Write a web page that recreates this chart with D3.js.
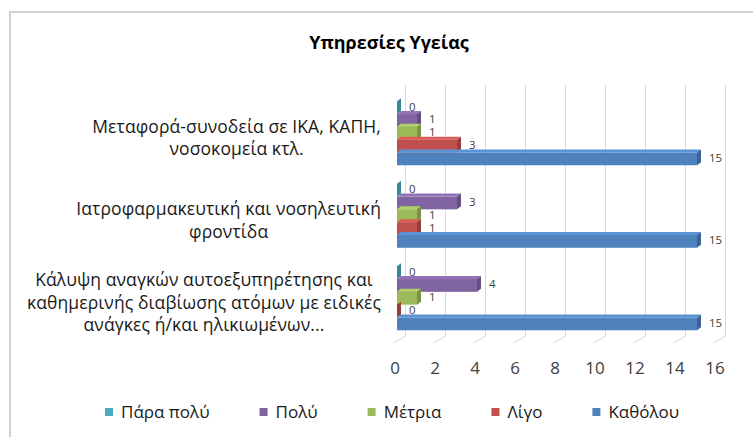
<!DOCTYPE html>
<html>
<head>
<meta charset="utf-8">
<script src="https://cdn.jsdelivr.net/npm/d3@7"></script>
<style>
  body { margin: 0; background: #fff; }
  svg { display: block; font-family: "Open Sans", "Noto Sans", sans-serif; }
</style>
</head>
<body>
<script>
// chart data
const title = "Υπηρεσίες Υγείας";
const categories = [
  ["Μεταφορά-συνοδεία σε ΙΚΑ, ΚΑΠΗ,", "νοσοκομεία κτλ."],
  ["Ιατροφαρμακευτική και νοσηλευτική", "φροντίδα"],
  ["Κάλυψη αναγκών αυτοεξυπηρέτησης και", "καθημερινής διαβίωσης ατόμων με ειδικές", "ανάγκες ή/και ηλικιωμένων..."]
];
const seriesNames = ["Πάρα πολύ", "Πολύ", "Μέτρια", "Λίγο", "Καθόλου"];
const paraPoly = [0, 0, 0];
const poly = [1, 3, 4];
const metria = [1, 1, 1];
const ligo = [3, 1, 0];
const katholou = [15, 15, 15];
const xTicks = [0, 2, 4, 6, 8, 10, 12, 14, 16];

const seriesValues = [paraPoly, poly, metria, ligo, katholou];
const colors = ["#4bacc6", "#8064a2", "#9bbb59", "#c0504d", "#4f81bd"];

const width = 753, height = 437;

const svg = d3.select("body").append("svg")
  .attr("width", width)
  .attr("height", height);

// outer frame
svg.append("rect")
  .attr("x", 10).attr("y", 12)
  .attr("width", 800).attr("height", 500)
  .attr("fill", "#fff")
  .attr("stroke", "#d0d0d0")
  .attr("stroke-width", 2);

svg.append("text")
  .attr("x", 389).attr("y", 49)
  .attr("text-anchor", "middle")
  .style("font-size", "18px")
  .style("font-weight", "bold")
  .attr("fill", "#000")
  .text(title);

// 3d depth: floor front -> back wall, bars sit in the middle
const depthX = 12, depthY = -7;
const barDx = 4, barDy = -3;

const x = d3.scaleLinear().domain([0, 16]).range([393, 713]);
const floorY = 343;

const y = d3.scaleBand()
  .domain(d3.range(categories.length))
  .range([92, 339.5])
  .paddingInner(0.224)
  .paddingOuter(0.112);

const ySeries = d3.scaleBand()
  .domain(d3.range(seriesNames.length))
  .range([0, y.bandwidth()]);

// gridlines on back wall + floor diagonals
const grid = svg.append("g").attr("stroke", "#d9d9d9").attr("stroke-width", 1);
grid.selectAll(".gv").data(xTicks).enter().append("line")
  .attr("x1", d => x(d) + depthX + 0.5).attr("x2", d => x(d) + depthX + 0.5)
  .attr("y1", 85).attr("y2", floorY + depthY);
grid.selectAll(".gd").data(xTicks).enter().append("line")
  .attr("x1", d => x(d) + 0.5).attr("y1", floorY)
  .attr("x2", d => x(d) + depthX + 0.5).attr("y2", floorY + depthY);

// tick labels
svg.append("g").selectAll("text").data(xTicks).enter().append("text")
  .attr("x", d => x(d) + 2)
  .attr("y", 374)
  .attr("text-anchor", "middle")
  .style("font-size", "17px")
  .attr("fill", "#404040")
  .text(d => d);

// bars
const x0 = x(0) + 4;
function shade(c, k) {
  return k > 0 ? d3.color(c).brighter(k).formatHex() : d3.color(c).darker(-k).formatHex();
}

categories.forEach(function(cat, ci) {
  const g = svg.append("g");
  seriesValues.forEach(function(vals, si) {
    const v = vals[ci];
    const yt = y(ci) + ySeries(si);
    const h = ySeries.bandwidth();
    const xe = x0 + (x(v) - x(0));
    const col = colors[si];
    // front
    g.append("rect")
      .attr("x", x0).attr("y", yt)
      .attr("width", xe - x0).attr("height", h)
      .attr("fill", col);
    // top
    g.append("path")
      .attr("d", `M${x0},${yt}L${x0 + barDx},${yt + barDy}L${xe + barDx},${yt + barDy}L${xe},${yt}Z`)
      .attr("fill", shade(col, 0.35));
    // side
    g.append("path")
      .attr("d", `M${xe},${yt}L${xe + barDx},${yt + barDy}L${xe + barDx},${yt + h + barDy}L${xe},${yt + h}Z`)
      .attr("fill", shade(col, -0.7));
    // value label
    g.append("text")
      .attr("x", xe + 12)
      .attr("y", yt + h / 2 - 1)
      .attr("dy", "0.35em")
      .style("font-size", "11.5px")
      .attr("fill", "#404040")
      .text(v);
  });
});

// category labels (block right-aligned, lines centred)
categories.forEach(function(lines, ci) {
  const g = svg.append("g");
  const texts = lines.map(function(l) {
    return g.append("text")
      .style("font-size", "17.5px")
      .style("letter-spacing", "0.1px")
      .attr("fill", "#1a1a1a")
      .attr("text-anchor", "middle")
      .text(l);
  });
  const maxW = d3.max(texts, t => t.node().getComputedTextLength());
  const cx = 381 - maxW / 2;
  const cy = y(ci) + y.bandwidth() / 2 + 6;
  const n = lines.length;
  texts.forEach(function(t, i) {
    t.attr("x", cx).attr("y", cy + (i - (n - 1) / 2) * 22.5 + 4.5);
  });
});

// legend
const legend = svg.append("g");
let lx = 105;
seriesNames.forEach(function(name, i) {
  legend.append("rect")
    .attr("x", lx).attr("y", 408)
    .attr("width", 8).attr("height", 8)
    .attr("fill", colors[i]);
  const t = legend.append("text")
    .attr("x", lx + 16).attr("y", 412)
    .attr("dy", "0.35em")
    .style("font-size", "17px")
    .attr("fill", "#1a1a1a")
    .text(name);
  lx += 16 + t.node().getComputedTextLength() + 50;
});
</script>
</body>
</html>
